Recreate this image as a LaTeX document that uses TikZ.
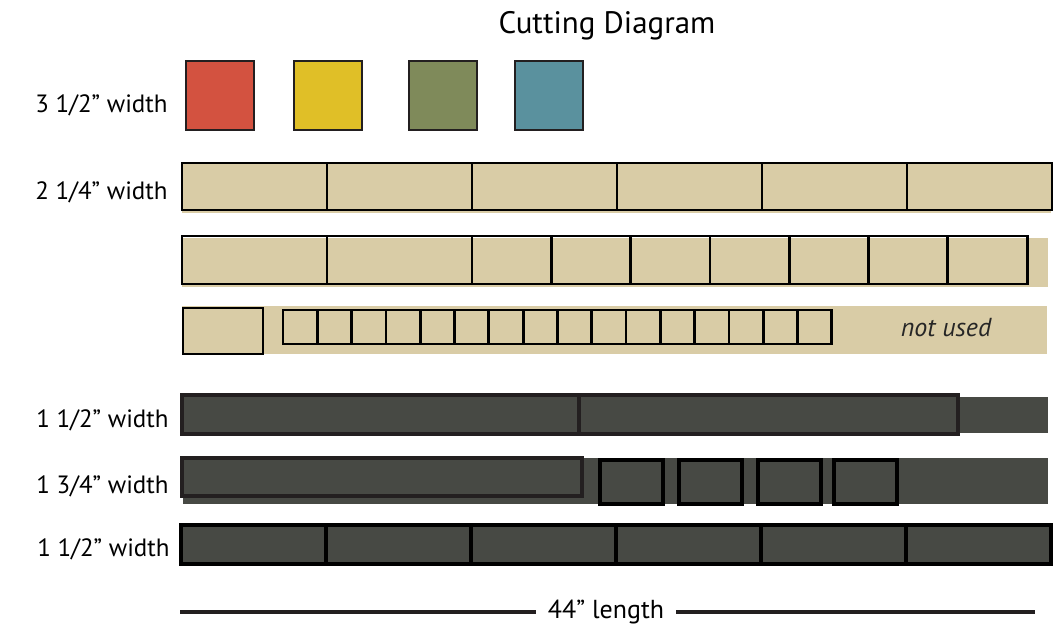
\documentclass[tikz,border=0pt]{standalone}
\usepackage{fontspec}
\setmainfont{PT Sans}

\definecolor{cutred}{HTML}{D35240}
\definecolor{cutyellow}{HTML}{E0BF27}
\definecolor{cutgreen}{HTML}{7F8A5A}
\definecolor{cutblue}{HTML}{5A919E}
\definecolor{cuttan}{HTML}{D9CCA6}
\definecolor{cutdark}{HTML}{474944}
\definecolor{edgegray}{HTML}{231F20}

\begin{document}
\begin{tikzpicture}[x=0.5pt, y=-0.5pt,
    square/.style={draw=edgegray, line width=1pt, minimum width=34pt, minimum height=34.5pt, inner sep=0pt},
    tanpiece/.style={draw=black, line width=1.4pt},
    darkpiece/.style={draw=edgegray, line width=1.6pt},
    rowlabel/.style={anchor=east, inner sep=0pt, font=\fontsize{12.5}{14}\selectfont}]
    \useasboundingbox (0,0) rectangle (1061,634);

    \node[font=\fontsize{15.5}{18}\selectfont] (title) at (607,26) {Cutting Diagram};

    % 3 1/2" squares
    \node[rowlabel] (wa) at (168,105) {3 1/2” width};
    \node[square, fill=cutred] (sqred) at (220,95.5) {};
    \node[square, fill=cutyellow] (sqyellow) at (327.5,95.5) {};
    \node[square, fill=cutgreen] (sqgreen) at (443,95.5) {};
    \node[square, fill=cutblue] (sqblue) at (549,95.5) {};

    % 2 1/4" strips
    \node[rowlabel] (wb) at (168,192) {2 1/4” width};
    \fill[cuttan] (182,163) rectangle (1051,213);
    \foreach \x in {182,327,...,907}
        \draw[tanpiece] (\x,163) rectangle ++(145,47);

    \fill[cuttan] (182,238) rectangle (1048,287);
    \draw[tanpiece] (182,236) rectangle (327,284);
    \draw[tanpiece] (327,236) rectangle (472,284);
    \foreach \i in {0,...,6}
        \draw[tanpiece] ({472+79.3*\i},236) rectangle ++(79.3,48);

    \fill[cuttan] (182,306) rectangle (1047,354);
    \draw[tanpiece] (183,308) rectangle (263,354);
    \foreach \i in {0,...,15}
        \draw[tanpiece] ({283+34.3*\i},310) rectangle ++(34.3,34);
    \node[font=\fontsize{13}{15}\selectfont\itshape, text=black!85] (unused) at (946,328) {not used};

    % 1 1/2" strip
    \node[rowlabel] (wc) at (169,420) {1 1/2” width};
    \fill[cutdark] (182,397) rectangle (1048,433);
    \draw[darkpiece, fill=cutdark] (182,395) rectangle (579,434);
    \draw[darkpiece, fill=cutdark] (579,395) rectangle (958,434);

    % 1 3/4" strip
    \node[rowlabel] (wd) at (169,486) {1 3/4” width};
    \fill[cutdark] (183,458) rectangle (1048,504);
    \draw[darkpiece, fill=cutdark] (182,458) rectangle (582,496);
    \foreach \x in {600,679,758,834}
        \draw[tanpiece, line width=1.6pt] (\x,460) rectangle ++(63,44);

    % 1 1/2" strip
    \node[rowlabel] (we) at (170,549) {1 1/2” width};
    \fill[cutdark] (181,525) rectangle (1050,564);
    \foreach \x in {181,326,...,906}
        \draw[tanpiece, line width=1.6pt] (\x,525) rectangle ++(145,39);

    % length
    \node[font=\fontsize{13}{15}\selectfont, inner xsep=6pt] (len) at (606,612) {44” length};
    \coordinate (lenL) at (180,612);
    \coordinate (lenR) at (1035,612);
    \draw[line width=2pt, edgegray] (lenL) -- (len.west);
    \draw[line width=2pt, edgegray] (len.east) -- (lenR);
\end{tikzpicture}
\end{document}
